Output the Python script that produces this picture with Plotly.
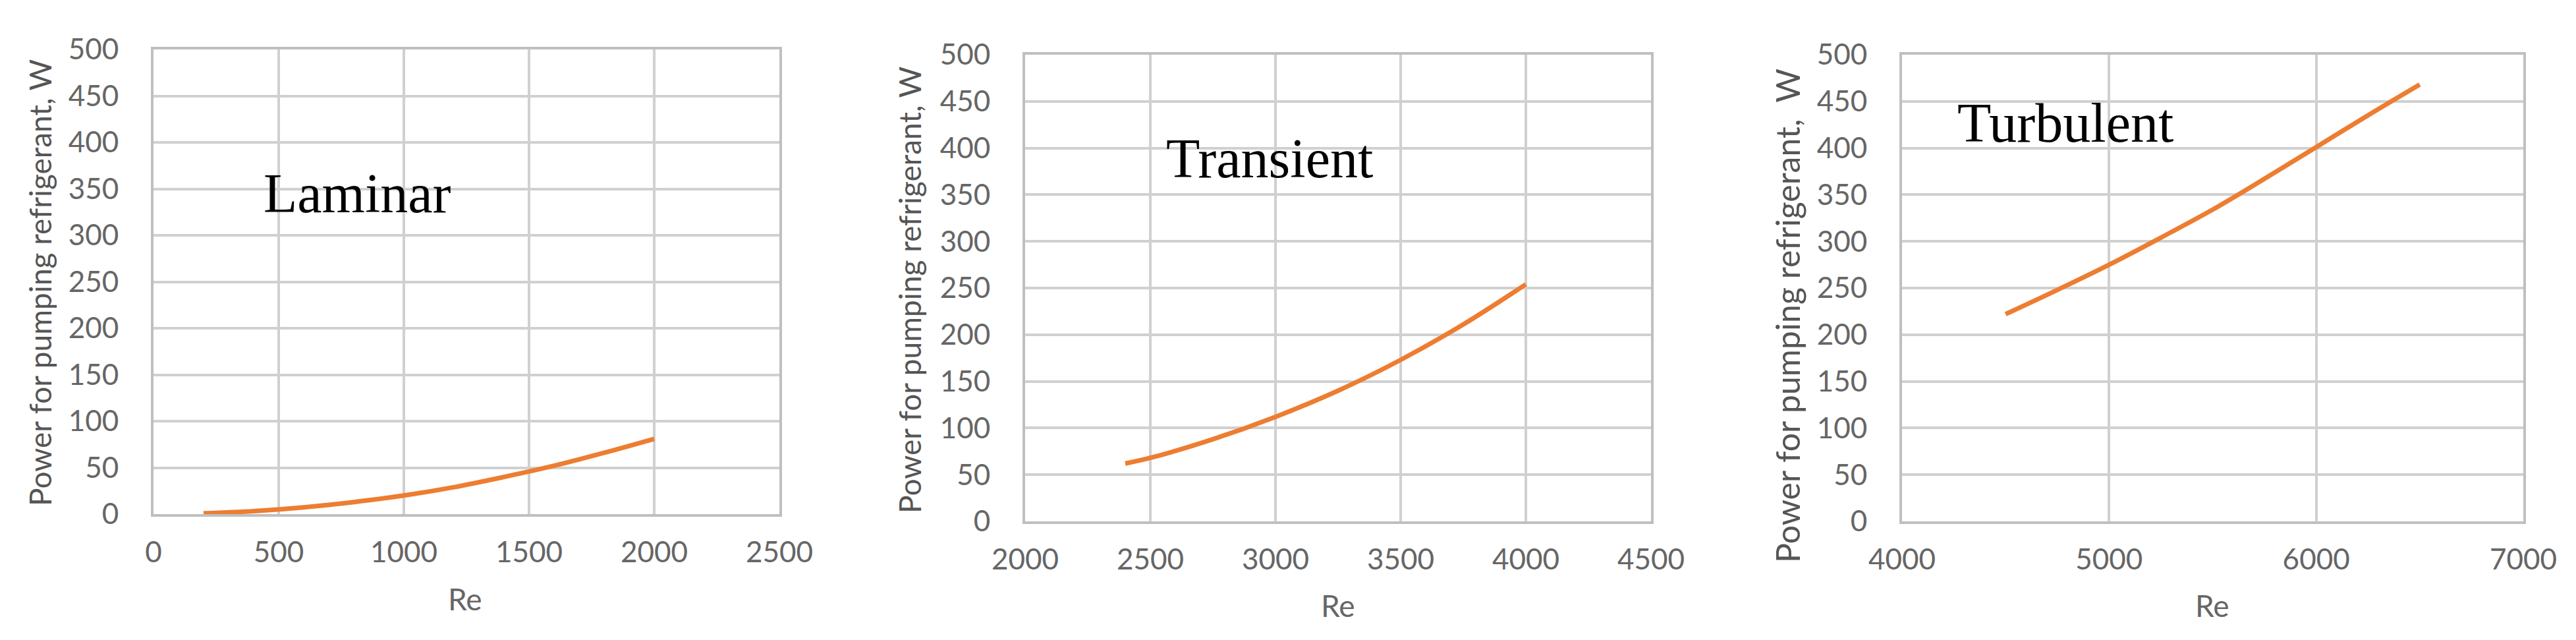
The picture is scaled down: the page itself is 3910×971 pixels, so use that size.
import plotly.graph_objects as go

# Reynolds number vs pumping power
re_laminar = [200, 400, 600, 800, 1000, 1200, 1400, 1600, 1800, 2000]
p_laminar = [0.8, 3.2, 7.3, 13, 20, 29, 40, 52, 66, 81]

re_transient = [2400, 2500, 2750, 3000, 3250, 3500, 3750, 4000]
p_transient = [62, 68, 88, 112, 140, 173, 211, 254]

re_turbulent = [4500, 4750, 5000, 5250, 5500, 5750, 6000, 6250, 6500]
p_turbulent = [222, 248, 275, 304, 334, 367, 401, 435, 468]

regimes = ["Laminar", "Transient", "Turbulent"]
x_ranges = [[0, 2500], [2000, 4500], [4000, 7000]]
x_dticks = [500, 500, 1000]
label_pos = [(815, 345), (2975, 389), (4788, 427)]
y_title = "Power for pumping refrigerant, W"
x_title = "Re"

W, H = 3910, 971
ORANGE = "#ED7D31"
GRID = "#d0d0d0"
TXT = "#666666"
TITLE = "#555555"

# pixel boxes of the three plot areas: left, right, top, bottom
boxes = [(225, 1175, 67, 772), (1548, 2498, 75, 783), (2879, 3822, 75, 783)]

fig = go.Figure()
series = [(re_laminar, p_laminar), (re_transient, p_transient), (re_turbulent, p_turbulent)]

for i, (xs, ys) in enumerate(series):
    sfx = "" if i == 0 else str(i + 1)
    fig.add_trace(go.Scatter(
        x=xs, y=ys, mode="lines", line=dict(color=ORANGE, width=7, shape="spline"),
        xaxis="x" + sfx, yaxis="y" + sfx, showlegend=False, hoverinfo="skip"))

    l, r, t, b = boxes[i]
    fig.layout["xaxis" + sfx] = dict(
        domain=[l / W, r / W], anchor="y" + sfx, range=x_ranges[i], dtick=x_dticks[i],
        showgrid=True, gridcolor=GRID, gridwidth=4, zeroline=False,
        showline=True, linecolor="#bfbfbf", linewidth=4, mirror=True,
        ticks="", ticklabelstandoff=16, automargin=False,
        tickfont=dict(family="Lato, Arial", size=44, color=TXT))
    fig.layout["yaxis" + sfx] = dict(
        domain=[1 - b / H, 1 - t / H], anchor="x" + sfx, range=[0, 500], dtick=50,
        showgrid=True, gridcolor=GRID, gridwidth=4, zeroline=False,
        showline=True, linecolor="#bfbfbf", linewidth=4, mirror=True,
        ticks="", ticklabelstandoff=40, automargin=False,
        tickfont=dict(family="Lato, Arial", size=44, color=TXT))

    # regime label inside the panel
    fig.add_annotation(x=label_pos[i][0], y=label_pos[i][1], xref="x" + sfx, yref="y" + sfx,
                       text=regimes[i], showarrow=False,
                       font=dict(family="Liberation Serif, Times New Roman", size=84, color="black"))

# axis titles
ytitle_pos = [(52, 421, 46), (1372, 432, 46), (2705, 471, 50)]
for i, (px, py, fs) in enumerate(ytitle_pos):
    txt = y_title if i < 2 else y_title.replace(", W", ",  W")
    fig.add_annotation(x=px / W, y=1 - py / H, xref="paper", yref="paper", text=txt,
                       textangle=-90, showarrow=False, xanchor="center", yanchor="middle",
                       font=dict(family="Lato, Arial", size=fs, color=TITLE))

xtitle_pos = [(698, 900), (2023, 910), (3350, 910)]
for px, py in xtitle_pos:
    fig.add_annotation(x=px / W, y=1 - py / H, xref="paper", yref="paper", text=x_title,
                       showarrow=False, xanchor="center", yanchor="middle",
                       font=dict(family="Lato, Arial", size=46, color=TXT))

fig.update_layout(
    width=W, height=H, margin=dict(l=0, r=0, t=0, b=0),
    paper_bgcolor="white", plot_bgcolor="white")

fig.write_html("out.html")
